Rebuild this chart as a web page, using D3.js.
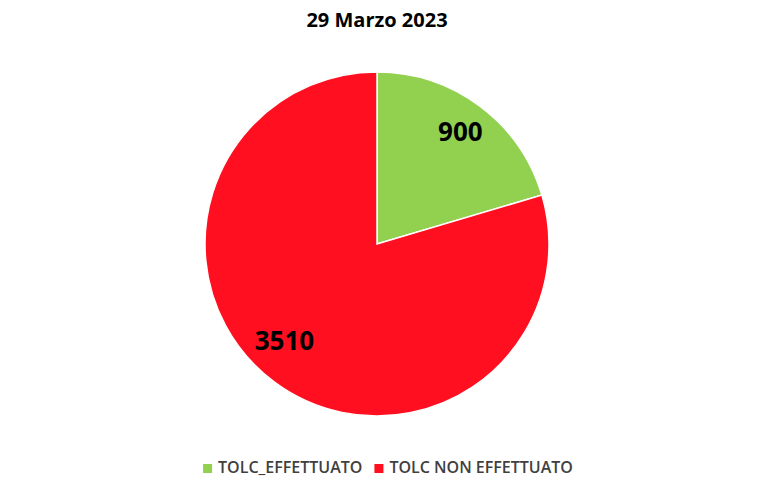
<!DOCTYPE html>
<html><head><meta charset="utf-8">
<script src="https://cdn.jsdelivr.net/npm/d3@7"></script>
<style>body{margin:0;background:#fff}svg{display:block}</style>
</head><body>
<svg id="c" width="768" height="486"></svg>
<script>
const title = "29 Marzo 2023";
const categories = ["TOLC_EFFETTUATO", "TOLC NON EFFETTUATO"];
const values = [900, 3510];
const colors = ["#92D050", "#FF0F1F"];

const svg = d3.select("#c");
const cx = 377, cy = 244, r = 172;
const font = "'Open Sans', 'Liberation Sans', sans-serif";

svg.append("text").attr("x", cx).attr("y", 27).attr("text-anchor", "middle")
  .attr("font-family", font).attr("font-weight", "bold").attr("font-size", 20)
  .attr("fill", "#000").text(title);

const data = categories.map((c, i) => ({cat: c, value: values[i], color: colors[i]}));
const pie = d3.pie().value(d => d.value).sort(null);
const arcs = pie(data);
const arc = d3.arc().innerRadius(0).outerRadius(r);
const g = svg.append("g").attr("transform", `translate(${cx},${cy})`);
g.selectAll("path").data(arcs).join("path")
  .attr("d", arc).attr("fill", d => d.data.color)
  .attr("stroke", "#fff").attr("stroke-width", 1.5);

// label placement (Excel best-fit approximation)
const labelR = [0.81 * r, 0.78 * r];
const labelNudge = [0, 0.12];
g.selectAll("text.lbl").data(arcs).join("text").attr("class", "lbl")
  .attr("x", (d, i) => Math.sin((d.startAngle + d.endAngle) / 2 + labelNudge[i]) * labelR[i])
  .attr("y", (d, i) => -Math.cos((d.startAngle + d.endAngle) / 2 + labelNudge[i]) * labelR[i])
  .attr("dy", "0.35em").attr("text-anchor", "middle")
  .attr("font-family", font).attr("font-weight", "bold").attr("font-size", 26)
  .attr("fill", "#000").text(d => d.data.value);

// legend
const lg = svg.append("g");
const items = lg.selectAll("g").data(data).join("g");
items.append("rect").attr("width", 9).attr("height", 9).attr("y", -9)
  .attr("fill", d => d.color);
items.append("text").attr("x", 15).attr("y", 0)
  .attr("font-family", font).attr("font-weight", 600).attr("font-size", 16)
  .attr("fill", "#404040").text(d => d.cat);
const widths = [];
items.each(function () { widths.push(this.getBBox().width); });
const gap = 12;
const total = widths.reduce((a, b) => a + b, 0) + gap * (widths.length - 1);
let x0 = 388 - total / 2;
items.attr("transform", (d, i) => {
  const t = `translate(${x0},473)`;
  x0 += widths[i] + gap;
  return t;
});
</script>
</body></html>
